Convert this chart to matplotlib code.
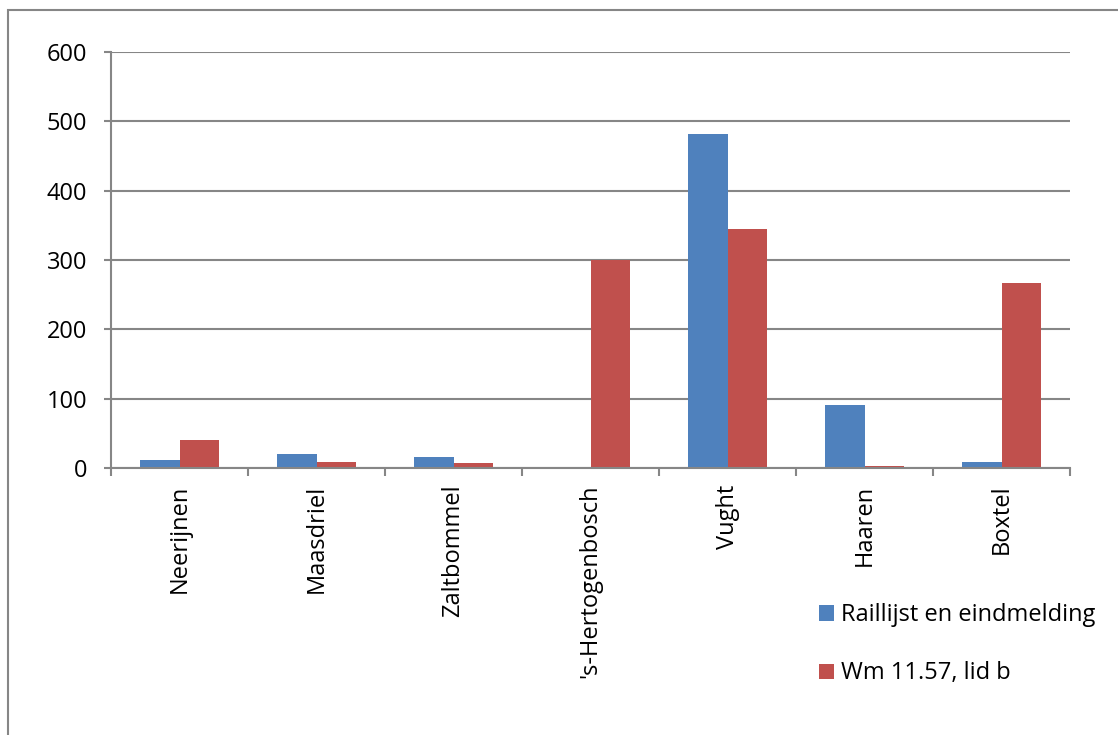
import matplotlib
matplotlib.use("Agg")
import matplotlib.pyplot as plt
from matplotlib.patches import Rectangle
import numpy as np


# ------------------------------------------------------
# Data
# ------------------------------------------------------

PLACES = [
    "Neerijnen",
    "Maasdriel",
    "Zaltbommel",
    "'s-Hertogenbosch",
    "Vught",
    "Haaren",
    "Boxtel",
]

RAILLIJST = [12, 20, 16, 0, 482, 91, 9]
WM_LID_B = [41, 8, 7, 300, 345, 3, 267]

SERIES_NAMES = [
    "Raillijst en eindmelding",
    "Wm 11.57, lid b",
]

Y_TICKS = [0, 100, 200, 300, 400, 500, 600]

BLUE = "#4F81BD"
RED = "#C0504D"
GRID = "#868686"
FS = 17

plt.rcParams["font.family"] = ["Open Sans", "DejaVu Sans"]

W, H = 1118, 735
fig = plt.figure(figsize=(W / 100, H / 100), dpi=100)

ax = fig.add_axes([
    111 / W,
    (H - 468) / H,
    (1070 - 111) / W,
    (468 - 52) / H,
])

x = np.arange(len(PLACES))
bar_w = 0.285

ax.bar(x - bar_w / 2, RAILLIJST, bar_w, color=BLUE, label=SERIES_NAMES[0], zorder=3)
ax.bar(x + bar_w / 2, WM_LID_B, bar_w, color=RED, label=SERIES_NAMES[1], zorder=3)

ax.set_xlim(-0.5, len(PLACES) - 0.5)
ax.set_ylim(0, 600)
ax.set_yticks(Y_TICKS)
ax.set_yticklabels([str(v) for v in Y_TICKS], fontsize=FS)

ax.set_xticks(x)
ax.set_xticklabels(PLACES, rotation=90, fontsize=FS, va="top")
ax.set_xticks(np.arange(len(PLACES) + 1) - 0.5, minor=True)
ax.tick_params(axis="x", which="major", length=0, pad=12)
ax.tick_params(axis="x", which="minor", length=6, width=1.5, color=GRID)
ax.tick_params(axis="y", length=5, width=1.5, color=GRID, pad=12)

ax.yaxis.grid(True, color=GRID, linewidth=1.5, zorder=0)
ax.set_axisbelow(True)

for side in ["top", "right"]:
    ax.spines[side].set_visible(False)
for side in ["left", "bottom"]:
    ax.spines[side].set_color(GRID)
    ax.spines[side].set_linewidth(1.5)
    ax.spines[side].set_zorder(4)

fig.legend(
    loc="upper left",
    bbox_to_anchor=(798 / W, 1 - 582 / H),
    frameon=False,
    fontsize=FS,
    handlelength=0.62,
    handleheight=0.62,
    handletextpad=0.3,
    labelspacing=1.45,
)

# chart frame, cropped at right and bottom
fig.patches.append(Rectangle(
    (8 / W, -0.1), 1.2, 1.1 - 10 / H,
    transform=fig.transFigure,
    fill=False,
    edgecolor=GRID,
    linewidth=1.5,
))

fig.savefig("out.png", dpi=100)
